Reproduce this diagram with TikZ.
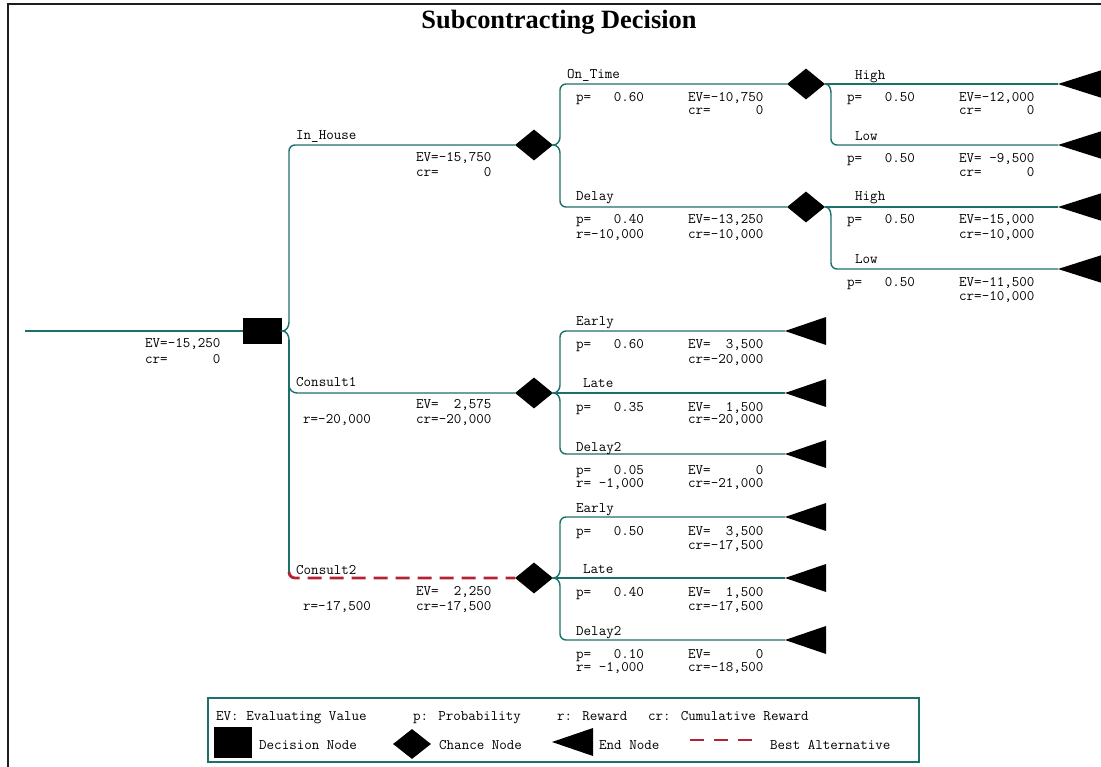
\documentclass[tikz,border=0pt]{standalone}
\usepackage{fontspec}
\newfontfamily\titlefont{Liberation Serif}
\usetikzlibrary{shapes.geometric}

\definecolor{branch}{RGB}{28,112,106}
\definecolor{bestred}{RGB}{178,34,52}
\definecolor{frameline}{RGB}{30,30,30}

% make every interword space exactly one character cell wide
\newcommand\evenspaces{\setbox0\hbox{0}\spaceskip=\wd0\relax}

\tikzset{
  br/.style={draw=branch, line width=1.4pt},
  bestpath/.style={draw=bestred, line width=2.8pt, dash pattern=on 14pt off 8pt},
  decnode/.style={rectangle, fill=black, inner sep=0pt, minimum width=39pt, minimum height=26pt},
  chance/.style={diamond, fill=black, inner sep=0pt, minimum width=38pt, minimum height=31pt},
  txt/.style={anchor=base west, inner sep=0pt,
              font=\ttfamily\fontsize{14.6}{16}\selectfont\evenspaces},
  legendbox/.style={rectangle, draw=branch, line width=1.2pt, inner sep=0pt,
                    minimum width=711pt, minimum height=64pt},
}

% text label: name, x, baseline y, text
\newcommand\tlabel[4]{\node[txt] (#1) at (#2,#3) {#4};}
% terminal: left-pointing filled triangle with its apex named
\newcommand\termtri[4]{\coordinate (#1) at (#2,#3);
  \fill (#1) -- ++(#4,-14) -- ++(0,28) -- cycle;}

\begin{document}
\begin{tikzpicture}[x=1pt,y=-1pt]
\useasboundingbox (0,0) rectangle (1101,767);

% outer frame (top and left edges)
\draw[frameline, line width=2pt] (8,767) -- (8,4) -- (1101,4);

% title
\node (title) at (559,22) {\titlefont\bfseries\fontsize{26.4}{30}\selectfont Subcontracting Decision};

% ---------------- nodes ----------------
\coordinate (root) at (25,331);
\node[decnode] (d0) at (262.5,331) {};

\node[chance] (c1) at (534,145) {};
\node[chance] (c2) at (534,393) {};
\node[chance] (c3) at (534,578) {};

\node[chance] (o1) at (806,84) {};
\node[chance] (o2) at (806,207) {};

\termtri{e1}{1058}{84}{44}
\termtri{e2}{1058}{145}{44}
\termtri{e3}{1058}{207}{44}
\termtri{e4}{1058}{269}{44}

\termtri{f1}{785}{331}{41}
\termtri{f2}{785}{393}{41}
\termtri{f3}{785}{454}{41}

\termtri{g1}{785}{517}{41}
\termtri{g2}{785}{578}{41}
\termtri{g3}{785}{640}{41}

% ---------------- connectors ----------------
\draw[br] (root) -- (d0.west);

% decision trunk
\draw[br, rounded corners=6pt] (c1.west) -- (289,145) -- (289,322);
\draw[br] (289,322) to[out=-90,in=0] (d0.east) to[out=0,in=90] (289,340);
\draw[br] (289,340) -- (289,572);
\draw[br] (289,385) to[out=-90,in=180] (297,393) -- (c2.west);
\draw[bestpath] (289,572) to[out=-90,in=180] (295,578) -- (c3.west);

% In_House chance node
\draw[br, rounded corners=6pt] (o1.west) -- (560,84) -- (560,137);
\draw[br] (560,137) to[out=-90,in=0] (c1.east) to[out=0,in=90] (560,153);
\draw[br, rounded corners=6pt] (560,153) -- (560,207) -- (o2.west);

% On_Time chance node
\draw[br] (o1.east) -- (e1);
\draw[br] (o1.east) to[out=0,in=90] (831,93);
\draw[br, rounded corners=6pt] (831,93) -- (831,145) -- (e2);

% Delay chance node
\draw[br] (o2.east) -- (e3);
\draw[br] (o2.east) to[out=0,in=90] (831,216);
\draw[br, rounded corners=6pt] (831,216) -- (831,269) -- (e4);

% Consult1 chance node
\draw[br, rounded corners=6pt] (f1) -- (560,331) -- (560,385);
\draw[br] (560,385) to[out=-90,in=0] (c2.east) to[out=0,in=90] (560,401);
\draw[br, rounded corners=6pt] (560,401) -- (560,454) -- (f3);
\draw[br] (c2.east) -- (f2);

% Consult2 chance node
\draw[br, rounded corners=6pt] (g1) -- (560,517) -- (560,570);
\draw[br] (560,570) to[out=-90,in=0] (c3.east) to[out=0,in=90] (560,586);
\draw[br, rounded corners=6pt] (560,586) -- (560,640) -- (g3);
\draw[br] (c3.east) -- (g2);

% ---------------- labels ----------------
\tlabel{d0ev}{145}{348}{EV=-15,250}
\tlabel{d0cr}{145}{363}{cr=~~~~~~0}

\tlabel{ihname}{296}{140}{In\_House}
\tlabel{ihev}{416}{162}{EV=-15,750}
\tlabel{ihcr}{416}{177}{cr=~~~~~~0}

\tlabel{c1name}{296}{387}{Consult1}
\tlabel{c1r}{303}{424}{r=-20,000}
\tlabel{c1ev}{416}{409}{EV=~~2,575}
\tlabel{c1cr}{416}{424}{cr=-20,000}

\tlabel{c2name}{296}{574}{Consult2}
\tlabel{c2r}{303}{610}{r=-17,500}
\tlabel{c2ev}{416}{595}{EV=~~2,250}
\tlabel{c2cr}{416}{610}{cr=-17,500}

\tlabel{otname}{567}{79}{On\_Time}
\tlabel{otp}{576}{102}{p=~~~0.60}
\tlabel{otev}{688}{102}{EV=-10,750}
\tlabel{otcr}{688}{115}{cr=~~~~~~0}

\tlabel{dlname}{576}{201}{Delay}
\tlabel{dlp}{576}{224}{p=~~~0.40}
\tlabel{dlr}{576}{239}{r=-10,000}
\tlabel{dlev}{688}{224}{EV=-13,250}
\tlabel{dlcr}{688}{239}{cr=-10,000}

\tlabel{h1name}{855}{80}{High}
\tlabel{h1p}{847}{102}{p=~~~0.50}
\tlabel{h1ev}{959}{102}{EV=-12,000}
\tlabel{h1cr}{959}{115}{cr=~~~~~~0}

\tlabel{l1name}{855}{141}{Low}
\tlabel{l1p}{847}{163}{p=~~~0.50}
\tlabel{l1ev}{959}{163}{EV=~-9,500}
\tlabel{l1cr}{959}{177}{cr=~~~~~~0}

\tlabel{h2name}{855}{201}{High}
\tlabel{h2p}{847}{224}{p=~~~0.50}
\tlabel{h2ev}{959}{224}{EV=-15,000}
\tlabel{h2cr}{959}{239}{cr=-10,000}

\tlabel{l2name}{855}{264}{Low}
\tlabel{l2p}{847}{287}{p=~~~0.50}
\tlabel{l2ev}{959}{287}{EV=-11,500}
\tlabel{l2cr}{959}{301}{cr=-10,000}

\tlabel{e1name}{576}{326}{Early}
\tlabel{e1p}{576}{349}{p=~~~0.60}
\tlabel{e1ev}{688}{349}{EV=~~3,500}
\tlabel{e1cr}{688}{363}{cr=-20,000}

\tlabel{la1name}{583}{388}{Late}
\tlabel{la1p}{576}{411}{p=~~~0.35}
\tlabel{la1ev}{688}{411}{EV=~~1,500}
\tlabel{la1cr}{688}{424}{cr=-20,000}

\tlabel{dy1name}{576}{451}{Delay2}
\tlabel{dy1p}{576}{474}{p=~~~0.05}
\tlabel{dy1r}{576}{487}{r=~-1,000}
\tlabel{dy1ev}{688}{474}{EV=~~~~~~0}
\tlabel{dy1cr}{688}{487}{cr=-21,000}

\tlabel{e2name}{576}{512}{Early}
\tlabel{e2p}{576}{535}{p=~~~0.50}
\tlabel{e2ev}{688}{535}{EV=~~3,500}
\tlabel{e2cr}{688}{549}{cr=-17,500}

\tlabel{la2name}{583}{573}{Late}
\tlabel{la2p}{576}{596}{p=~~~0.40}
\tlabel{la2ev}{688}{596}{EV=~~1,500}
\tlabel{la2cr}{688}{610}{cr=-17,500}

\tlabel{dy2name}{576}{635}{Delay2}
\tlabel{dy2p}{576}{658}{p=~~~0.10}
\tlabel{dy2r}{576}{671}{r=~-1,000}
\tlabel{dy2ev}{688}{658}{EV=~~~~~~0}
\tlabel{dy2cr}{688}{671}{cr=-18,500}

% ---------------- legend ----------------
\node[legendbox] (legend) at (563.5,730) {};
\tlabel{lgev}{216}{720}{EV: Evaluating Value}
\tlabel{lgp}{413}{720}{p: Probability}
\tlabel{lgr}{557}{720}{r: Reward}
\tlabel{lgcr}{648}{720}{cr: Cumulative Reward}

\node[decnode, minimum width=38pt, minimum height=31pt] (lgdec) at (232.5,742) {};
\tlabel{lgdectx}{259}{749}{Decision Node}
\node[chance, minimum width=38pt, minimum height=30pt] (lgch) at (412,744) {};
\tlabel{lgchtx}{439}{749}{Chance Node}
\coordinate (lgend) at (552,742);
\fill (lgend) -- ++(41,-14) -- ++(0,28) -- cycle;
\tlabel{lgendtx}{599}{749}{End Node}
\coordinate (lgbestA) at (690,740);
\coordinate (lgbestB) at (752,740);
\draw[bestpath, dash pattern=on 14pt off 10pt] (lgbestA) -- (lgbestB);
\tlabel{lgbesttx}{770}{749}{Best Alternative}
\end{tikzpicture}
\end{document}
